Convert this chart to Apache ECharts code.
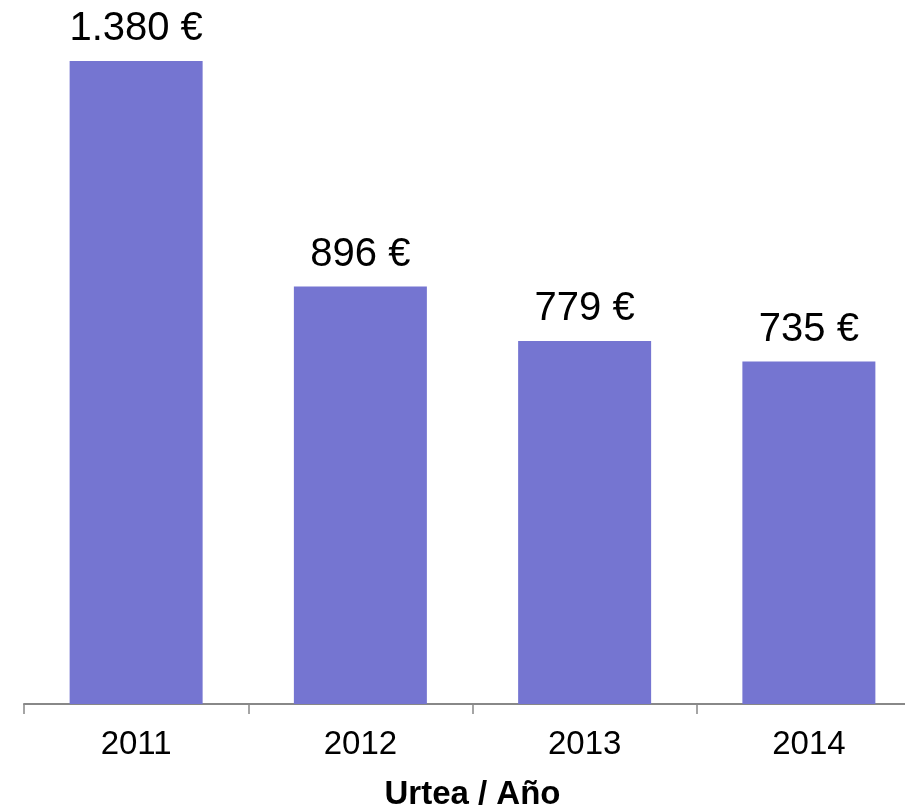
<!DOCTYPE html>
<html>
<head>
<meta charset="utf-8">
<script src="https://cdn.jsdelivr.net/npm/echarts@6/dist/echarts.min.js"></script>
<style>
  html, body { margin: 0; padding: 0; background: #fff; }
  #chart { width: 905px; height: 808px; }
</style>
</head>
<body>
<div id="chart"></div>
<script>
// Urtea / Año
const years = ["2011", "2012", "2013", "2014"];
const amounts = [1380, 896, 779, 735];

const fmtEuro = (v) => {
    // thousands separator is a dot
    return String(v).replace(/\B(?=(\d{3})+(?!\d))/g, ".") + " €";
};

const chart = echarts.init(document.getElementById("chart"), null, { renderer: "canvas" });
chart.setOption({
    animation: false,
    backgroundColor: "#ffffff",
    textStyle: { fontFamily: "Liberation Sans, Arial, sans-serif" },
    grid: {
        left: 24, top: 61, width: 897, height: 643,
        containLabel: false,
        outerBoundsMode: "none",
    },
    xAxis: {
        type: "category",
        data: years,
        name: "Urtea / Año",
        nameLocation: "middle",
        nameGap: 74,
        nameTextStyle: { fontSize: 33, fontWeight: "bold", color: "#000", verticalAlign: "top" },
        axisLine: { lineStyle: { color: "#888888", width: 2 } },
        axisTick: { show: true, length: 10, lineStyle: { color: "#888888", width: 1.5 } },
        axisLabel: { fontSize: 33, color: "#000", margin: 24 },
    },
    yAxis: {
        type: "value",
        min: 0,
        max: 1380,
        show: false,
        splitLine: { show: false },
    },
    series: [
        {
            type: "bar",
            data: amounts,
            barWidth: 133,
            itemStyle: { color: "#7575d1" },
            label: {
                show: true,
                position: "top",
                distance: 12,
                fontSize: 40,
                color: "#000",
                formatter: (p) => fmtEuro(p.value),
            },
        },
    ],
});
</script>
</body>
</html>
